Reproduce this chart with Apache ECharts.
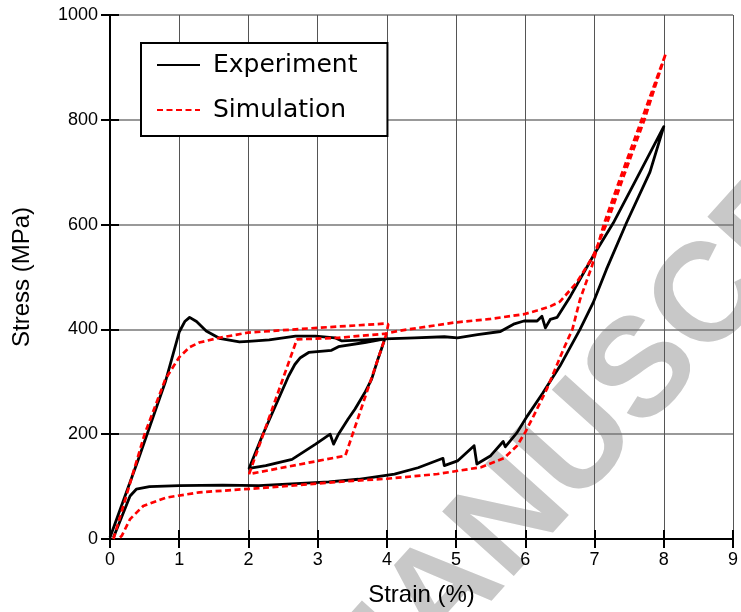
<!DOCTYPE html>
<html>
<head>
<meta charset="utf-8">
<script src="https://cdn.jsdelivr.net/npm/echarts@6/dist/echarts.min.js"></script>
<style>
  html, body { margin: 0; padding: 0; background: #fff; }
  #chart { width: 741px; height: 612px; }
</style>
</head>
<body>
<div id="chart"></div>
<script>
// Experiment: load, partial unload/reload loop at 4 %, load to 8 %, unload
var expStrain = [0.0, 0.41, 0.8, 1.0, 1.08, 1.15, 1.25, 1.39, 1.58, 1.87, 2.0, 2.3, 2.68, 2.97, 3.25, 3.35, 3.68, 3.97,
    3.92, 3.87, 3.78, 3.68, 3.54, 3.44, 3.30, 3.23, 3.18, 2.97, 2.63, 2.25, 2.01,
    2.20, 2.58, 2.67, 2.75, 2.87, 3.20, 3.30, 3.68, 3.97,
    4.4, 4.83, 5.02, 5.31, 5.64, 5.83, 5.98, 6.17, 6.24, 6.29, 6.36, 6.46, 6.65, 6.98, 7.27, 7.60, 8.0,
    7.80, 7.46, 7.17, 6.98, 6.79, 6.5, 6.25, 6.03, 5.88, 5.71, 5.68, 5.50, 5.30, 5.26, 5.02, 4.83, 4.81,
    4.45, 4.11, 3.59, 3.16, 2.15, 1.63, 1.0, 0.57, 0.38, 0.29, 0.05];
var expStress = [3, 152, 300, 395, 415, 423, 415, 397, 383, 376, 377, 380, 387, 387, 384, 378, 380, 382,
    362, 343, 305, 279, 248, 229, 200, 181, 200, 181, 152, 140, 135,
    197, 311, 333, 346, 356, 360, 367, 375, 382,
    384, 386, 384, 390, 396, 410, 416, 416, 425, 403, 419, 423, 463, 540, 603, 686, 787,
    700, 603, 514, 451, 400, 330, 278, 235, 203, 176, 186, 159, 143, 178, 149, 140, 154,
    136, 124, 114, 109, 102, 103, 102, 100, 95, 82, 3];

// Simulation
var simStrain = [0.05, 0.5, 0.8, 1.0, 1.15, 1.29, 1.58, 2.0, 3.0, 3.97, 4.02,
    3.99, 3.40, 2.01,
    2.70, 3.30, 3.99, 4.16, 4.97, 5.5, 5.98, 6.17, 6.36, 6.5, 6.74, 6.98, 7.2, 7.42, 7.72, 8.03,
    7.68, 7.38, 7.14, 6.96, 6.79, 6.68, 6.55, 6.31, 6.12, 6.0, 5.88, 5.69, 5.36, 4.73, 4.0,
    3.51, 2.15, 1.29, 0.81, 0.48, 0.29, 0.17, 0.12];
var simStress = [0, 200, 305, 347, 366, 375, 384, 394, 403, 411, 410,
    390, 159, 124,
    381, 384, 392, 397, 413, 420, 429, 436, 444, 453, 489, 540, 610, 692, 800, 927,
    800, 692, 603, 520, 457, 400, 362, 286, 235, 204, 178, 154, 137, 124, 115,
    111, 97, 89, 79, 63, 38, 6, 0];

var xTicks = [0, 9, 1];
var yTicks = [0, 1000, 200];

function zip(xs, ys) {
    return xs.map(function(x, i) { return [x, ys[i]]; });
}

var myChart = echarts.init(document.getElementById('chart'));
var font = 'Liberation Sans';

var option = {
    animation: false,
    backgroundColor: '#fff',
    grid: {
        left: 110,
        right: 4,
        top: 15,
        bottom: 72
    },
    legend: {
        orient: 'vertical',
        left: 141,
        top: 43,
        padding: [9, 30, 13, 15],
        itemGap: 19,
        itemWidth: 43,
        itemHeight: 14,
        backgroundColor: '#fff',
        borderColor: '#000',
        borderWidth: 2,
        borderRadius: 0,
        itemStyle: { opacity: 0 },
        textStyle: {
            fontFamily: 'DejaVu Sans',
            fontSize: 25,
            lineHeight: 26,
            color: '#000',
            padding: [0, 0, 0, 8]
        },
        data: ['Experiment', 'Simulation']
    },
    graphic: [{
        type: 'text',
        x: 333,
        y: 719,
        rotation: 48 * Math.PI / 180,
        silent: true,
        z: -1,
        style: {
            text: 'MANUSCRIPT',
            font: 'bold 140px "Liberation Sans"',
            fill: '#c8c8c8',
            textVerticalAlign: 'middle'
        }
    }],
    xAxis: [{
        type: 'value',
        min: xTicks[0],
        max: xTicks[1],
        interval: xTicks[2],
        name: 'Strain (%)',
        nameLocation: 'middle',
        nameGap: 44,
        nameTextStyle: { fontFamily: font, fontSize: 24, color: '#000' },
        axisLine: { lineStyle: { color: '#000', width: 2 } },
        axisTick: { inside: true, length: 9, lineStyle: { color: '#000', width: 2 } },
        axisLabel: { fontFamily: font, fontSize: 18, color: '#000', margin: 12 },
        splitLine: { show: true, lineStyle: { color: '#555', width: 1 } }
    }, {
        type: 'value',
        position: 'top',
        min: xTicks[0],
        max: xTicks[1],
        interval: xTicks[2],
        axisLine: { lineStyle: { color: '#000', width: 2 } },
        axisTick: { inside: true, length: 9, lineStyle: { color: '#000', width: 2 } },
        axisLabel: { show: false },
        splitLine: { show: false }
    }],
    yAxis: [{
        type: 'value',
        min: yTicks[0],
        max: yTicks[1],
        interval: yTicks[2],
        name: 'Stress (MPa)',
        nameLocation: 'middle',
        nameGap: 76,
        nameTextStyle: { fontFamily: font, fontSize: 24, color: '#000' },
        axisLine: { show: true, lineStyle: { color: '#000', width: 2 } },
        axisTick: { show: true, inside: true, length: 9, lineStyle: { color: '#000', width: 2 } },
        axisLabel: {
            fontFamily: font, fontSize: 18, color: '#000', margin: 12,
            formatter: function(v) { return String(v); }
        },
        splitLine: { show: true, lineStyle: { color: '#777', width: 1.5 } }
    }, {
        type: 'value',
        position: 'right',
        min: yTicks[0],
        max: yTicks[1],
        interval: yTicks[2],
        axisLine: { show: true, lineStyle: { color: '#000', width: 2 } },
        axisTick: { show: true, inside: true, length: 9, lineStyle: { color: '#000', width: 2 } },
        axisLabel: { show: false },
        splitLine: { show: false }
    }],
    series: [{
        name: 'Experiment',
        type: 'line',
        symbol: 'none',
        smooth: false,
        lineStyle: { color: '#000', width: 2.8, join: 'round' },
        itemStyle: { color: '#000' },
        data: zip(expStrain, expStress)
    }, {
        name: 'Simulation',
        type: 'line',
        symbol: 'none',
        smooth: false,
        lineStyle: { color: '#ff0000', width: 2.7, type: [6, 3.5] },
        itemStyle: { color: '#ff0000' },
        data: zip(simStrain, simStress)
    }]
};

myChart.setOption(option);
</script>
</body>
</html>
